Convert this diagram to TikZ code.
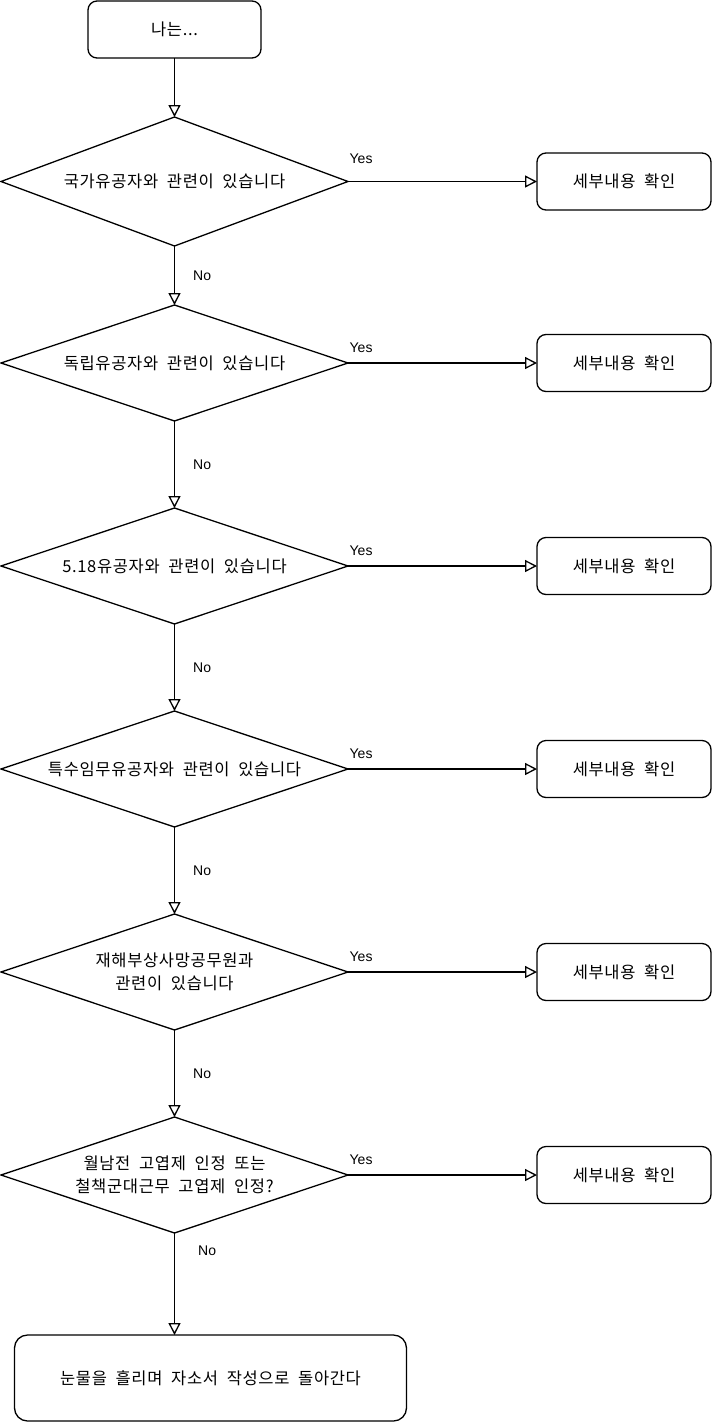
\documentclass[tikz,border=0pt]{standalone}
\usepackage{fontspec}
\setmainfont{Liberation Sans}
\newfontfamily\kr[LetterSpace=4,WordSpace=2]{Noto Sans CJK KR}
\usetikzlibrary{shapes.geometric,arrows.meta,positioning}

\begin{document}
\begin{tikzpicture}[x=1pt, y=-1pt, line width=1.3pt, >={Triangle[open,length=12pt,width=12pt]}]
    \tikzstyle{start} = [rectangle, rounded corners=9pt, draw, outer sep=0pt, minimum width=173pt, minimum height=57pt, font=\kr\fontsize{16.5}{23}\selectfont]
    \tikzstyle{check} = [start, minimum width=174pt]
    \tikzstyle{question} = [diamond, draw, shape aspect=3, inner sep=0pt, outer sep=0pt, minimum width=347pt, minimum height=116pt, align=center, font=\kr\fontsize{16.5}{23}\selectfont]
    \tikzstyle{finish} = [start, rounded corners=13pt, minimum width=392pt, minimum height=86pt]
    \tikzstyle{yes} = [anchor=south west, inner sep=0pt, xshift=1pt, yshift=10pt, font=\fontsize{14}{16}\selectfont]
    \tikzstyle{no} = [midway, anchor=west, inner sep=0pt, xshift=18pt, font=\fontsize{14}{16}\selectfont]

    \useasboundingbox (0,0) rectangle (714,1424);

    % 시작
    \node[start] (me) at (174.5,29.5) {나는...};

    % 질문
    \node[question, minimum height=129pt] (q1) [below=59pt of me] {국가유공자와 관련이 있습니다};
    \node[question] (q2) [below=59pt of q1] {독립유공자와 관련이 있습니다};
    \node[question] (q3) [below=87pt of q2] {5.18유공자와 관련이 있습니다};
    \node[question] (q4) [below=87pt of q3] {특수임무유공자와 관련이 있습니다};
    \node[question] (q5) [below=87pt of q4] {재해부상사망공무원과\\관련이 있습니다};
    \node[question] (q6) [below=87pt of q5] {월남전 고엽제 인정 또는\\철책군대근무 고엽제 인정?};

    % 세부내용
    \node[check] (c1) [right=189pt of q1] {세부내용 확인};
    \node[check] (c2) [right=189pt of q2] {세부내용 확인};
    \node[check] (c3) [right=189pt of q3] {세부내용 확인};
    \node[check] (c4) [right=189pt of q4] {세부내용 확인};
    \node[check] (c5) [right=189pt of q5] {세부내용 확인};
    \node[check] (c6) [right=189pt of q6] {세부내용 확인};

    % 끝
    \node[finish] (back) [below=102pt of q6, xshift=36pt] {눈물을 흘리며 자소서 작성으로 돌아간다};

    % 화살표
    \draw[->] (me) -- (q1);
    \draw[->] (q1) -- node[no] {No} (q2);
    \draw[->] (q2) -- node[no] {No} (q3);
    \draw[->] (q3) -- node[no] {No} (q4);
    \draw[->] (q4) -- node[no] {No} (q5);
    \draw[->] (q5) -- node[no] {No} (q6);
    \draw[->] (q6.south) -- node[no, pos=0.17, xshift=5pt] {No} (q6.south |- back.north);

    \draw[->] (q1) -- node[yes, pos=0, yshift=7pt] {Yes} (c1);
    \draw[->] (q2) -- node[yes, pos=0] {Yes} (c2);
    \draw[->] (q3) -- node[yes, pos=0] {Yes} (c3);
    \draw[->] (q4) -- node[yes, pos=0] {Yes} (c4);
    \draw[->] (q5) -- node[yes, pos=0] {Yes} (c5);
    \draw[->] (q6) -- node[yes, pos=0] {Yes} (c6);
\end{tikzpicture}
\end{document}
